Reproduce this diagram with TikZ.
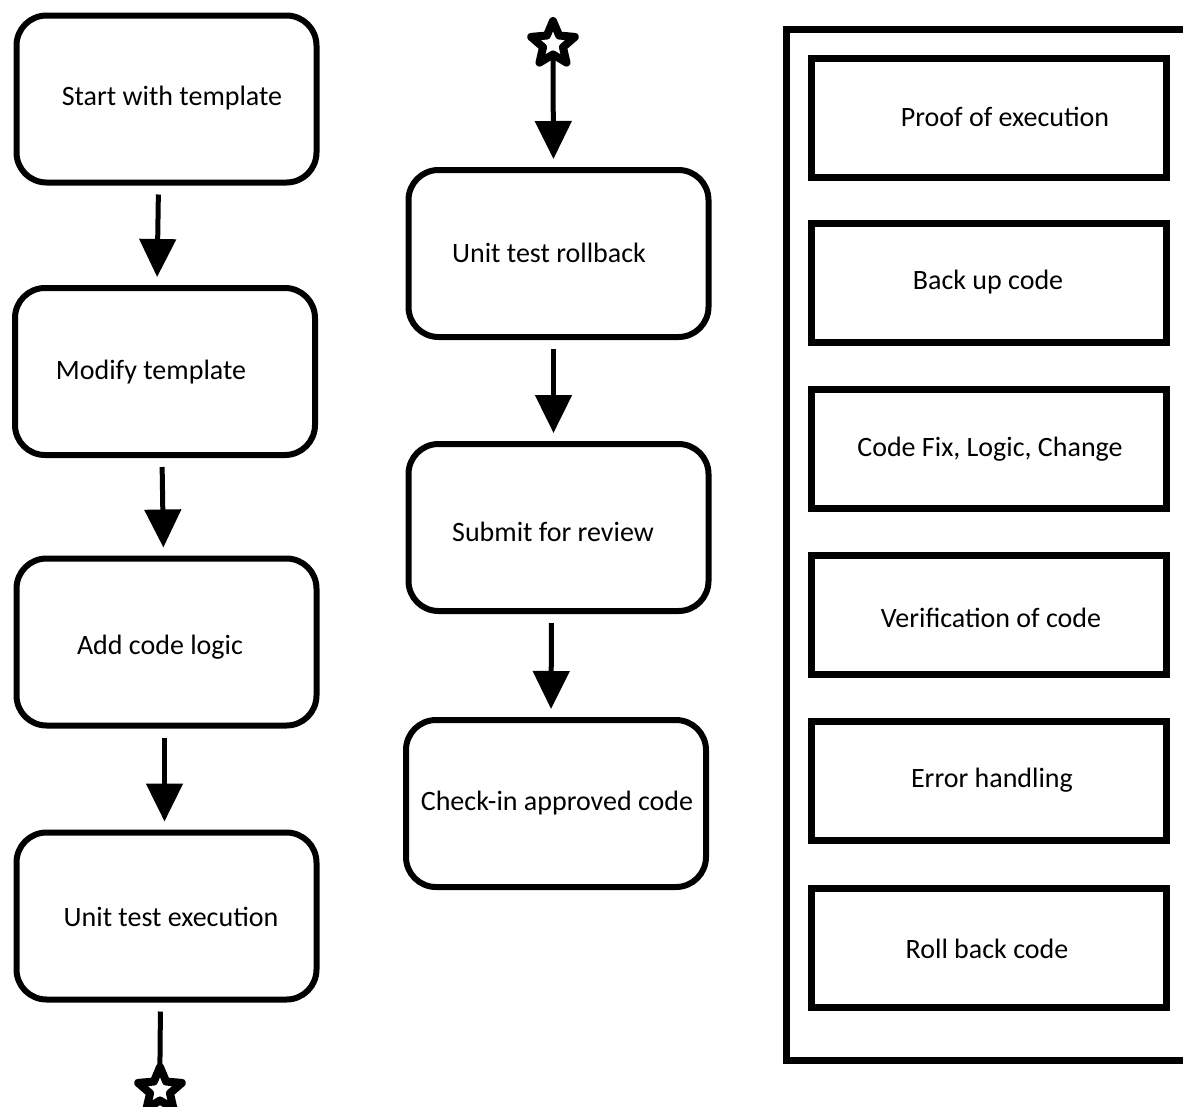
\documentclass[tikz,border=0pt]{standalone}
\usepackage{fontspec}
\setmainfont{Carlito}
\usetikzlibrary{arrows.meta,shapes.geometric}

\tikzset{
  flowbox/.style={draw, line width=6pt, rounded corners=30pt, minimum width=300pt, minimum height=167pt, inner sep=0pt},
  notebox/.style={draw, line width=7pt, minimum width=355pt, minimum height=119pt, inner sep=0pt},
  lbl/.style={font=\fontsize{28}{32}\selectfont, inner sep=0pt},
  flowarrow/.style={line width=5pt, -{Triangle[length=38pt,width=36pt]}},
  mark star/.style={draw, fill=white, star, star points=5, star point ratio=2.2, minimum size=46pt, line width=8pt, line join=round, inner sep=0pt}
}

\begin{document}
\begin{tikzpicture}[x=1pt,y=-1pt]
  \useasboundingbox (0,0) rectangle (1183,1106);
  \clip (0,0) rectangle (1183,1106);

  \node[flowbox] (b1) at (166.5,99) {};
  \node[flowbox] (b2) at (165,371.5) {};
  \node[flowbox] (b3) at (166.5,642) {};
  \node[flowbox] (b4) at (166.5,916) {};
  \node[flowbox] (b5) at (558.5,253.5) {};
  \node[flowbox] (b6) at (558.5,527.5) {};
  \node[flowbox] (b7) at (556,803.5) {};

  \node[lbl] (t1) at (172,98) {Start with template};
  \node[lbl] (t2) at (151,372) {Modify template};
  \node[lbl] (t3) at (160,647) {Add code logic};
  \node[lbl] (t4) at (171,917) {Unit test execution};
  \node[lbl] (t5) at (549,253) {Unit test rollback};
  \node[lbl] (t6) at (553,532) {Submit for review};
  \node[lbl] (t7) at (557,803) {Check-in approved code};

  \node[mark star] (s1) at (553,44) {};
  \node[mark star] (s2) at (160,1090) {};

  \draw[flowarrow, shorten <=9pt, shorten >=8pt] ([xshift=-8pt]b1.south) -- ([xshift=-8pt]b2.north);
  \draw[flowarrow, shorten <=9pt, shorten >=8pt] ([xshift=-3pt]b2.south) -- ([xshift=-3pt]b3.north);
  \draw[flowarrow, shorten <=9pt, shorten >=8pt] ([xshift=-2pt]b3.south) -- ([xshift=-2pt]b4.north);
  \draw[line width=5pt, shorten <=9pt, shorten >=-8pt] ([xshift=-6pt]b4.south) -- (s2.north);
  \draw[flowarrow, shorten >=8pt] (s1.south) -- ([xshift=-5pt]b5.north);
  \draw[flowarrow, shorten <=9pt, shorten >=8pt] ([xshift=-5pt]b5.south) -- ([xshift=-5pt]b6.north);
  \draw[flowarrow, shorten <=9pt, shorten >=8pt] ([xshift=-7pt]b6.south) -- ([xshift=-5pt]b7.north);

  \draw[line width=7pt] (1190,29.5) -- (786.5,29.5) -- (786.5,1060.5) -- (1190,1060.5);
  \node[notebox] (n1) at (989,118) {};
  \node[notebox] (n2) at (989,283) {};
  \node[notebox] (n3) at (989,449) {};
  \node[notebox] (n4) at (989,614.5) {};
  \node[notebox] (n5) at (989,780.5) {};
  \node[notebox] (n6) at (989,947.5) {};

  \node[lbl] (m1) at (1005,117) {Proof of execution};
  \node[lbl] (m2) at (988,282) {Back up code};
  \node[lbl] (m3) at (990,449) {Code Fix, Logic, Change};
  \node[lbl] (m4) at (991,618) {Verification of code};
  \node[lbl] (m5) at (992,780) {Error handling};
  \node[lbl] (m6) at (987,949) {Roll back code};
\end{tikzpicture}
\end{document}
